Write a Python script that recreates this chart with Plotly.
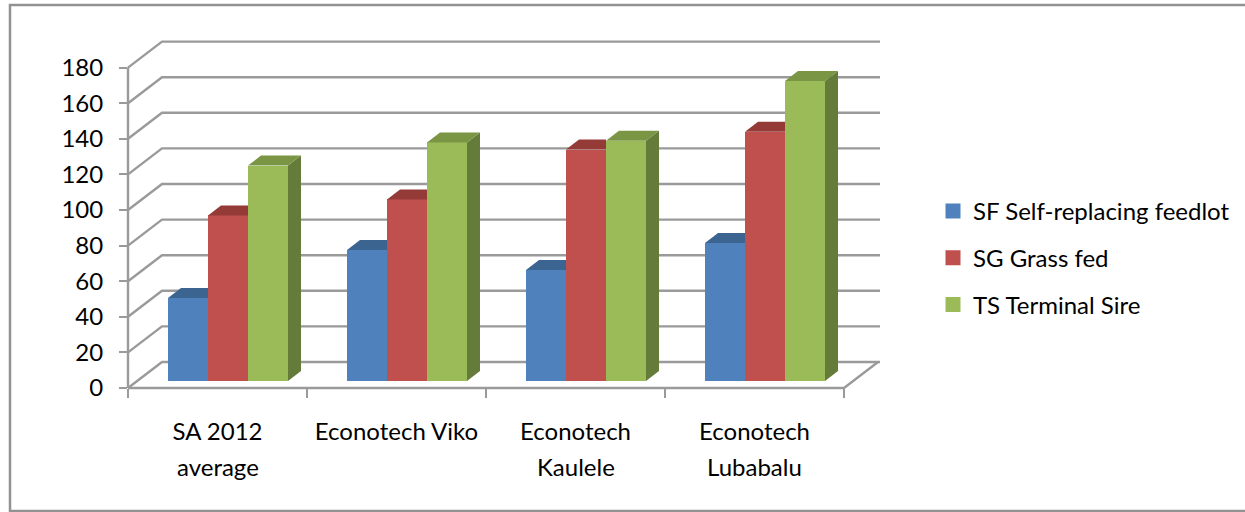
import plotly.graph_objects as go

categories = ["SA 2012 average", "Econotech Viko", "Econotech Kaulele", "Econotech Lubabalu"]
first_lines = ["SA 2012", "Econotech Viko", "Econotech", "Econotech"]
second_lines = ["average", "", "Kaulele", "Lubabalu"]
series_names = ["SF Self-replacing feedlot", "SG Grass fed", "TS Terminal Sire"]
sf_values = [46.6, 73.6, 62.4, 77.5]
sg_values = [93, 102, 130, 140]
ts_values = [121, 134, 135, 168.5]
y_ticks = list(range(0, 181, 20))

series = [sf_values, sg_values, ts_values]
front_colors = ["#4F81BD", "#C0504D", "#9BBB59"]
top_colors = ["#3B6491", "#943B38", "#7A9543"]
side_colors = ["#2F5078", "#7A302E", "#657B3A"]
GRID = "#9A9A9A"

W, H = 1245, 512
L, R, T, B = 128, 880, 42, 388
PX_CAT = 179.0
PX_UNIT = 1.78
xmax = (R - L) / PX_CAT
ymax = (B - T) / PX_UNIT
wall_dx, wall_dy = 34 / PX_CAT, 26 / PX_UNIT
bar_w = 40 / PX_CAT
bar_start = 40 / PX_CAT
bar_base = 7 / PX_UNIT
depth_x, depth_y = 13 / PX_CAT, 10 / PX_UNIT
n = len(categories)
FONT = "Lato"
FS = 24


def px(x):
    return x / xmax


def py(y):
    return y / ymax


fig = go.Figure()

for s, (vals, name) in enumerate(zip(series, series_names)):
    fig.add_trace(go.Bar(
        x=list(range(n)), y=vals, base=bar_base, width=bar_w,
        offset=bar_start + s * bar_w, marker=dict(color=front_colors[s], line=dict(width=0)),
        name=name, showlegend=False, hoverinfo="y"))

for s, vals in enumerate(series):
    for c, v in enumerate(vals):
        x0 = c + bar_start + s * bar_w
        x1 = x0 + bar_w
        top = bar_base + v
        nxt = series[s + 1][c] if s + 1 < len(series) else None
        hidden = nxt is not None and nxt >= v
        if hidden:
            tx = [x0, x1, x1, x0 + depth_x, x0]
            ty = [top, top, top + depth_y, top + depth_y, top]
        else:
            tx = [x0, x1, x1 + depth_x, x0 + depth_x, x0]
            ty = [top, top, top + depth_y, top + depth_y, top]
            fig.add_trace(go.Scatter(
                x=[x1, x1 + depth_x, x1 + depth_x, x1, x1],
                y=[bar_base, bar_base + depth_y, top + depth_y, top, bar_base],
                mode="lines", fill="toself", fillcolor=side_colors[s], line=dict(width=0),
                showlegend=False, hoverinfo="skip"))
        fig.add_trace(go.Scatter(
            x=tx, y=ty, mode="lines", fill="toself", fillcolor=top_colors[s], line=dict(width=0),
            showlegend=False, hoverinfo="skip"))

for s, name in enumerate(series_names):
    fig.add_trace(go.Bar(
        x=[None], y=[None], name=name, legendgroup=name, width=bar_w,
        marker=dict(color=front_colors[s], line=dict(color=front_colors[s], width=3))))

shapes = []
grid_line = dict(color=GRID, width=2.4)
for v in y_ticks:
    shapes.append(dict(
        type="path", xref="paper", yref="paper", layer="below", line=grid_line,
        path=f"M {px(0)} {py(v)} L {px(wall_dx)} {py(v + wall_dy)} L {px(xmax)} {py(v + wall_dy)}"))
shapes.append(dict(type="path", xref="paper", yref="paper", layer="below", line=grid_line,
                   path=f"M {px(0)} {py(0)} L {px(n)} {py(0)} L {px(n + wall_dx)} {py(wall_dy)}"))
shapes.append(dict(type="line", xref="paper", yref="paper", layer="below", line=grid_line,
                   x0=px(0), x1=px(0), y0=py(0), y1=py(y_ticks[-1])))
frame = dict(color="#929292", width=2.5)
shapes.append(dict(type="path", xref="paper", yref="paper", layer="below", line=frame,
                   path=f"M {(W + 5 - L) / (R - L)} {(B - 511) / (B - T)} "
                        f"L {(10 - L) / (R - L)} {(B - 511) / (B - T)} "
                        f"L {(10 - L) / (R - L)} {(B - 5) / (B - T)} "
                        f"L {(W + 5 - L) / (R - L)} {(B - 5) / (B - T)}"))

annotations = [
    dict(x=c + 0.5, y=0, xref="x", yref="paper", yshift=-(466.5 - B), text=t, showarrow=False,
         font=dict(family=FONT, size=FS, color="#000000"), xanchor="center", yanchor="middle")
    for c, t in enumerate(second_lines) if t
]

fig.update_layout(
    width=W, height=H, autosize=False,
    margin=dict(l=L, r=W - R, t=T, b=H - B, pad=0, autoexpand=False),
    paper_bgcolor="white", plot_bgcolor="rgba(0,0,0,0)",
    barmode="overlay", bargap=0,
    font=dict(family=FONT, size=FS, color="#000000"),
    shapes=shapes, annotations=annotations,
    legend=dict(x=(933 - L) / (R - L), y=(B - 189) / (B - T), xanchor="left", yanchor="top",
                font=dict(family=FONT, size=FS), tracegroupgap=12.5, itemwidth=30,
                bgcolor="rgba(0,0,0,0)"),
    xaxis=dict(
        range=[0, xmax], tickmode="array", tickvals=[c + 0.5 for c in range(n)],
        ticktext=first_lines, ticks="", ticklen=0, showgrid=False, zeroline=False, showline=False,
        ticklabelstandoff=27, tickangle=0,
        minor=dict(tickmode="array", tickvals=list(range(n + 1)), ticks="outside", ticklen=9,
                   tickwidth=2.4, tickcolor=GRID, showgrid=False)),
    yaxis=dict(
        range=[0, ymax], tickmode="array", tickvals=y_ticks, ticks="outside", ticklen=8,
        tickwidth=2.4, tickcolor=GRID, showgrid=False, zeroline=False, showline=False,
        ticklabelstandoff=11),
)

fig.write_html("out.html", config=dict(displayModeBar=False),
               post_script="document.body.style.margin='0';")
